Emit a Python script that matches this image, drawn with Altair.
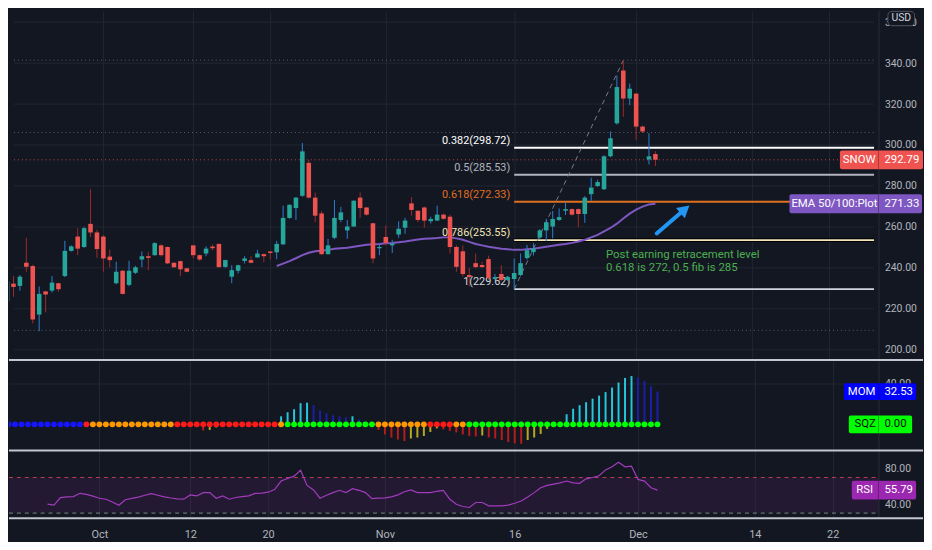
import altair as alt
import pandas as pd

# ------------------------------------------------------------------ values
# 4-hour candles of SNOW, one entry per bar from left to right
open_ = [223.6, 232.3, 231.2, 242.5, 240.9, 217.2, 228.5, 228.9, 232.5, 236.0,
         248.3, 255.3, 250.2, 261.5, 257.3, 255.3, 245.5, 232.5, 238.6, 231.7,
         237.6, 244.1, 245.7, 246.2, 251.0, 250.2, 242.5, 243.3, 239.8, 251.0,
         246.2, 247.0, 250.4, 251.7, 240.5, 235.7, 238.6, 243.4, 243.8, 245.1,
         246.7, 248.0, 247.6, 251.5, 264.4, 269.2, 275.2, 291.3, 274.3, 266.6,
         246.7, 254.7, 263.4, 258.3, 260.2, 274.3, 269.5, 261.8, 249.6, 255.1,
         251.0, 256.3, 259.6, 271.5, 267.9, 269.5, 262.8, 263.1, 266.0, 265.0,
         250.2, 248.1, 236.5, 242.3, 241.4, 244.3, 234.6, 237.0, 234.1, 234.6,
         236.5, 244.8, 247.7, 254.9, 258.3, 260.2, 263.4, 267.9, 268.7, 268.7,
         266.3, 276.0, 280.0, 278.4, 294.5, 310.6, 336.4, 322.7, 325.1, 309.0,
         292.9, 295.6]
high_ = [240.5, 236.0, 236.5, 254.7, 241.5, 230.9, 228.8, 236.0, 232.7, 253.2,
         251.0, 259.4, 260.0, 278.4, 258.6, 256.0, 249.0, 243.0, 239.0, 243.5,
         241.0, 248.0, 247.7, 252.5, 251.5, 250.5, 242.7, 243.5, 240.0, 251.2,
         246.5, 250.5, 251.5, 252.0, 244.0, 241.3, 241.5, 245.7, 245.7, 248.8,
         247.0, 248.3, 253.2, 270.4, 271.0, 274.6, 301.0, 292.8, 276.8, 267.8,
         254.2, 273.1, 269.8, 263.4, 273.0, 276.8, 269.8, 262.0, 251.7, 260.7,
         253.7, 262.8, 264.4, 274.6, 268.0, 270.0, 265.0, 270.4, 266.5, 266.0,
         251.0, 251.0, 240.0, 247.0, 243.0, 246.0, 237.0, 241.3, 236.0, 244.6,
         247.0, 251.2, 252.0, 259.0, 264.0, 267.8, 269.0, 272.0, 269.0, 269.0,
         275.0, 284.0, 283.0, 295.0, 306.6, 334.0, 341.42, 330.0, 325.5, 309.5,
         305.8, 297.0]
low_ = [222.0, 225.9, 228.9, 238.1, 212.9, 209.1, 218.3, 228.0, 228.3, 235.5,
        248.0, 246.2, 249.8, 255.0, 244.9, 238.1, 240.3, 232.0, 227.0, 231.0,
        237.0, 240.3, 238.9, 246.0, 245.5, 241.8, 240.0, 236.0, 237.8, 244.6,
        243.3, 245.7, 248.5, 240.0, 240.0, 232.5, 237.3, 242.2, 242.2, 245.0,
        242.7, 244.1, 244.2, 251.2, 264.0, 263.4, 274.7, 273.9, 262.3, 246.2,
        246.5, 254.0, 262.3, 254.2, 260.0, 264.4, 265.5, 242.2, 246.2, 251.0,
        247.3, 254.7, 256.6, 265.5, 262.3, 259.6, 261.7, 263.0, 263.5, 247.0,
        238.1, 235.7, 231.0, 239.8, 240.0, 234.0, 234.0, 233.5, 233.5, 229.62,
        236.0, 244.0, 246.0, 254.0, 253.0, 254.4, 263.0, 265.8, 265.5, 259.9,
        262.0, 272.8, 279.5, 278.0, 294.0, 310.0, 313.8, 319.5, 302.6, 305.8,
        290.5, 289.7]
close_ = [233.3, 230.7, 235.7, 240.5, 214.8, 227.3, 227.0, 232.8, 229.6, 248.3,
          250.5, 249.4, 259.4, 257.3, 249.2, 244.6, 243.8, 238.1, 227.3, 238.6,
          240.3, 245.7, 244.9, 252.1, 246.2, 242.2, 240.3, 239.3, 238.1, 246.2,
          244.1, 249.4, 249.6, 240.4, 243.8, 238.9, 241.3, 244.6, 242.5, 247.0,
          245.7, 247.3, 251.7, 264.4, 270.8, 274.3, 296.9, 274.3, 265.5, 246.7,
          251.0, 264.4, 267.1, 260.2, 272.8, 269.2, 266.0, 244.6, 250.2, 252.2,
          251.8, 259.1, 263.1, 268.3, 263.4, 263.1, 263.9, 266.0, 264.0, 250.2,
          240.5, 237.0, 235.5, 240.4, 240.4, 235.2, 235.5, 234.1, 235.5, 237.5,
          242.3, 248.6, 249.6, 258.3, 262.3, 263.9, 264.8, 268.7, 266.0, 266.3,
          274.3, 279.2, 281.9, 294.5, 303.3, 328.3, 322.7, 327.5, 309.0, 306.6,
          294.5, 292.79]

# EMA 50/100 plot, starts at bar 42
ema_first_bar = 42
ema_vals = [240.9, 242.1, 243.3, 244.7, 246.2, 247.4, 248.1, 248.4, 248.8, 249.3,
            249.6, 249.8, 250.3, 250.8, 251.3, 251.5, 251.7, 252.0, 252.2, 252.5,
            252.9, 253.4, 253.9, 254.2, 254.4, 254.6, 254.9, 254.9, 254.4, 253.7,
            252.7, 251.7, 251.0, 250.3, 249.8, 249.3, 249.1, 248.8, 248.8, 249.1,
            249.3, 249.8, 250.3, 250.8, 251.3, 251.7, 252.2, 252.9, 253.7, 254.9,
            256.1, 257.8, 259.5, 261.6, 264.1, 266.5, 268.4, 269.9, 271.0, 271.33]

# Squeeze momentum histogram (one value per bar)
mom_vals = [0, 0, 0, 0, 0, 0, 0, 0, 0, 0,
            0, 0, 0, 0, 0, 0, 0, 0, 0, 0,
            0, 0, 0, 0, 0, 0, 0, 0, 0, 0,
            0, -6, -5.5, -3, 0, 0, 0, 0, 0, 0,
            0, 0, 0, 8, 12, 15, 21, 21.5, 19, 14,
            11, 9, 8, 7, 8, 5, 3, 0.5, -5.5, -10,
            -13, -15, -16.5, -14, -13, -11.5, -7.5, -4, -5, -6.5,
            -8, -10, -11.5, -12, -11, -13, -14, -15.5, -17.5, -18.8,
            -19.2, -15.5, -13, -9.5, -4.5, -1.5, 2, 10, 15.5, 19,
            22, 25.5, 28.5, 32, 36.5, 41.5, 46, 48, 46.5, 43,
            38, 32.53]
# histogram colour per bar: c rising>0, n falling>0, r falling<0, y rising<0, . none
mom_kind = "".join([
    "...............................", "ryy", ".........", "ccccc", "nnnnnn", "c",
    "nnn", "rrrrr", "yyyyy", "rrrrrr", "y", "rrrrrr", "yyyyy", "cccccccccccc", "nnnn",
])
# squeeze dot colour per bar: b no squeeze, r / o squeeze on, g squeeze off
sqz_kind = "".join([
    "bbbbbbbbbbbbb", "r", "ooooooooooooo", "rrrrrrrrrrrrrrrr", "o", "gggggggggggggg",
    "oooooooo", "rrrr", "oo", "gggggggggggggggggggggggggggggg",
])

# RSI, starts at bar 7
rsi_first_bar = 7
rsi_vals = [40, 39, 47.4, 48.2, 48.6, 52.2, 51.1, 49, 46.7, 45.6,
            42.5, 38.9, 45, 46.5, 48, 50, 51.9, 50, 48.2, 47,
            46, 45.6, 50.4, 49.3, 53, 53, 46.7, 49.3, 45.6, 47.5,
            48.6, 49.3, 52.2, 52.5, 53.5, 56.5, 66, 68.9, 71.5, 78.2,
            61.1, 56, 46.7, 50, 53, 55.6, 53, 57.4, 55.6, 53,
            46.3, 46.8, 47.2, 48.2, 50.5, 54, 56, 53, 53, 53,
            54.5, 55.6, 45.6, 40, 37.4, 36.3, 41.9, 41.9, 38.2, 38.2,
            38.2, 39, 41.1, 43.5, 48, 53, 58.5, 61.1, 62.5, 64,
            66, 64, 63.5, 68.5, 70, 72, 78.5, 82, 87.1, 82,
            82.7, 67.8, 66, 58.5, 55.79]

tick_bars = [15, 29, 41, 59, 79, 98, 116, 128]
tick_labels = ["Oct", "12", "20", "Nov", "16", "Dec", "14", "22"]
price_ticks = [200, 220, 240, 260, 280, 300, 320, 340, 360]
mom_ticks = [40]
rsi_ticks = [40, 80]

fib_ratio = [0.382, 0.5, 0.618, 0.786, 1]
fib_price = [298.72, 285.53, 272.33, 253.55, 229.62]
fib_first_bar = 79
swing_bars = [79, 96]
swing_prices = [229.62, 341.42]
dotted_levels = [341.42, 306.1, 209.5]
rsi_upper, rsi_lower = 70, 30

note_bar = 93.3
note_prices = [246.2, 239.8]
note_lines = ["Post earning retracement level", "0.618 is 272, 0.5 fib is 285"]
arrow_from = (101.2, 256.8)
arrow_to = (105.0, 267.0)
arrow_head = (105.6, 268.6)

# ------------------------------------------------------------------ style
BG = "#131722"
GRID = "#222633"
BORDER = "#2a2e39"
SEP = "#c3c6ce"
TXT = "#b2b5be"
FONT = "Roboto"
UP, DOWN = "#26a69a", "#ef5350"
UP_WICK, DOWN_WICK = "#2a7fd6", "#9e2a2b"
MOM_COLORS = {"c": "#26c6da", "n": "#1b1fa8", "r": "#b71c1c", "y": "#b8a820", ".": "#000000"}
DOT_COLORS = {"b": "#1515ff", "r": "#ff1a1a", "o": "#ff9800", "g": "#00ff00"}
FIB_COLORS = ["#ffffff", "#b2b5be", "#e0701f", "#f2e6b8", "#d1d4dc"]

PX = 6.56                      # pixels per bar
W = 924
H_PRICE, H_MOM, H_RSI = 352, 92, 69
X_LEFT = 7 / PX
X_RIGHT = 931 / PX
X_EDGE = 886 / PX              # border between plot area and price scale
AXIS_PX = 879                  # same border in pixels
AX_OFF = AXIS_PX - W

PRICE_DOM = [195.46, 365.51]
MOM_DOM = [-25.49, 64.71]
RSI_DOM = [24.11, 100.78]

xs = alt.Scale(domain=[X_LEFT, X_RIGHT], nice=False, zero=False)


def x_axis(show):
    if show:
        labs = ",".join("'%s'" % s for s in tick_labels)
        idx = ",".join(str(v) for v in tick_bars)
        return alt.Axis(values=tick_bars, labelExpr="[%s][indexof([%s], datum.value)]" % (labs, idx),
                        grid=True, gridColor=GRID, domain=False, ticks=False, labelColor=TXT,
                        labelFont=FONT, labelFontSize=11, labelPadding=10, title=None,
                        labelFlush=False, labelOverlap=False)
    return alt.Axis(values=tick_bars, labels=False, grid=True, gridColor=GRID, domain=False,
                    ticks=False, title=None, minExtent=0, maxExtent=0)


def y_axis(values):
    return alt.Axis(orient="right", offset=AX_OFF, values=values, format=".2f", grid=False,
                    ticks=False, domain=True, domainColor=BORDER, labelColor=TXT, labelFont=FONT,
                    labelFontSize=10.5, labelPadding=6, labelAlign="left", title=None,
                    minExtent=0, maxExtent=0, labelFlush=False, labelOverlap=False)


def make_enc(xaxis, dom, yvals):
    ys = alt.Scale(domain=dom, nice=False, zero=False)
    ya = y_axis(yvals)

    def X(f):
        return alt.X(f, type="quantitative", scale=xs, axis=xaxis)

    def XD(v):
        return alt.XDatum(v, type="quantitative", scale=xs, axis=xaxis)

    def Y(f):
        return alt.Y(f, type="quantitative", scale=ys, axis=ya)

    def YD(v):
        return alt.YDatum(v, type="quantitative", scale=ys, axis=ya)
    return X, XD, Y, YD


def tag(Y, value, half_px, ppu, x0, x1, fill, name, name_x, val_text, fg):
    half = half_px / ppu
    d = pd.DataFrame({"v": [value], "hi": [value + half], "lo": [value - half],
                      "name": [name], "val": [val_text]})
    b = alt.Chart(d)
    return [
        b.mark_rect(color=fill, cornerRadius=2).encode(
            x=alt.value(x0), x2=alt.value(x1), y=Y("hi"), y2=alt.Y2("lo")),
        b.mark_rule(color="#000000", opacity=0.3, strokeWidth=1).encode(
            x=alt.value(AXIS_PX), y=Y("hi"), y2=alt.Y2("lo")),
        b.mark_text(align="center", baseline="middle", color=fg, font=FONT, fontSize=11.5).encode(
            x=alt.value(name_x), y=Y("v"), text="name:N"),
        b.mark_text(align="left", baseline="middle", color=fg, font=FONT, fontSize=11.5).encode(
            x=alt.value(AXIS_PX + 6), y=Y("v"), text="val:N"),
    ]


n = len(close_)
up = [c >= o for o, c in zip(open_, close_)]
bars = pd.DataFrame({"k": list(range(n)), "o": open_, "h": high_, "l": low_, "c": close_,
                     "body": [UP if u else DOWN for u in up],
                     "wick": [UP_WICK if u else DOWN_WICK for u in up]})
ema_df = pd.DataFrame({"k": list(range(ema_first_bar, ema_first_bar + len(ema_vals))), "v": ema_vals})
rsi_df = pd.DataFrame({"k": list(range(rsi_first_bar, rsi_first_bar + len(rsi_vals))), "v": rsi_vals})
mom_df = pd.DataFrame({"k": list(range(n)), "m": mom_vals, "kind": list(mom_kind), "dot": list(sqz_kind)})
mom_df["mc"] = mom_df["kind"].map(MOM_COLORS)
mom_df["dc"] = mom_df["dot"].map(DOT_COLORS)
hist_df = mom_df[mom_df["kind"] != "."]

# ------------------------------------------------------------------ price pane
X, XD, Y, YD = make_enc(x_axis(False), PRICE_DOM, price_ticks)
ppu_price = H_PRICE / (PRICE_DOM[1] - PRICE_DOM[0])

fib_df = pd.DataFrame({"k": [fib_first_bar] * len(fib_price), "p": fib_price, "col": FIB_COLORS,
                       "lab": ["%g(%.2f)" % (r, p) for r, p in zip(fib_ratio, fib_price)]})
swing_df = pd.DataFrame({"k": swing_bars, "p": swing_prices})
note_df = pd.DataFrame({"k": [note_bar] * 2, "p": note_prices, "t": note_lines})
arrow_df = pd.DataFrame({"k": [arrow_from[0]], "p": [arrow_from[1]], "k2": [arrow_to[0]], "p2": [arrow_to[1]]})
head_df = pd.DataFrame({"k": [arrow_head[0]], "p": [arrow_head[1]]})

price_layers = [
    alt.Chart(pd.DataFrame({"p": price_ticks})).mark_rule(color=GRID, strokeWidth=1).encode(
        x=XD(X_LEFT), x2=alt.X2Datum(X_EDGE), y=Y("p")),
    alt.Chart(pd.DataFrame({"p": dotted_levels})).mark_rule(color="#5d606b", strokeWidth=1, strokeDash=[1, 3]).encode(
        x=XD(X_LEFT), x2=alt.X2Datum(X_EDGE), y=Y("p")),
    alt.Chart(pd.DataFrame({"p": [close_[-1]]})).mark_rule(color=DOWN, opacity=0.8, strokeWidth=1, strokeDash=[1, 3]).encode(
        x=XD(X_LEFT), x2=alt.X2Datum(X_EDGE), y=Y("p")),
    alt.Chart(fib_df[fib_df["p"] == fib_price[3]]).mark_rule(color="#000000", strokeWidth=4).encode(
        x=X("k"), x2=alt.X2Datum(X_EDGE), y=Y("p")),
    alt.Chart(fib_df).mark_rule(strokeWidth=2).encode(
        x=X("k"), x2=alt.X2Datum(X_EDGE), y=Y("p"), color=alt.Color("col:N", scale=None)),
    alt.Chart(fib_df).mark_text(align="right", baseline="middle", dx=-4, dy=-7, font=FONT, fontSize=11).encode(
        x=X("k"), y=Y("p"), text="lab:N", color=alt.Color("col:N", scale=None)),
    alt.Chart(swing_df).mark_line(color="#787b86", strokeWidth=1, strokeDash=[5, 4]).encode(
        x=X("k"), y=Y("p")),
    alt.Chart(ema_df).mark_line(color="#7e57c2", strokeWidth=2).encode(x=X("k"), y=Y("v")),
    alt.Chart(bars).mark_rule(strokeWidth=1, clip=True).encode(
        x=X("k"), y=Y("l"), y2=alt.Y2("h"), color=alt.Color("wick:N", scale=None)),
    alt.Chart(bars).mark_bar(width=4.6, orient="vertical", clip=True).encode(
        x=X("k"), y=Y("o"), y2=alt.Y2("c"), color=alt.Color("body:N", scale=None)),
    alt.Chart(note_df).mark_text(align="left", baseline="middle", color="#4caf50", font=FONT, fontSize=11.5).encode(
        x=X("k"), y=Y("p"), text="t:N"),
    alt.Chart(arrow_df).mark_rule(color="#2196f3", strokeWidth=4, strokeCap="round").encode(
        x=X("k"), y=Y("p"), x2=alt.X2("k2"), y2=alt.Y2("p2")),
    alt.Chart(head_df).mark_point(shape="triangle-up", filled=True, size=190, angle=50, color="#2196f3", opacity=1).encode(
        x=X("k"), y=Y("p")),
]
price_layers += tag(Y, close_[-1], 9.5, ppu_price, 840, 924, DOWN, "SNOW", 859.5,
                    "%.2f" % close_[-1], "#ffffff")
price_layers += tag(Y, ema_vals[-1], 9.5, ppu_price, 789, 923, "#7e57c2", "EMA 50/100:Plot", 834.5,
                    "%.2f" % ema_vals[-1], "#ffffff")
usd_df = pd.DataFrame({"hi": [PRICE_DOM[1] - 0.5 / ppu_price], "lo": [PRICE_DOM[1] - 15 / ppu_price],
                       "v": [PRICE_DOM[1] - 7.6 / ppu_price], "t": ["USD"]})
price_layers += [
    alt.Chart(usd_df).mark_rect(color=BG, stroke="#50535e", strokeWidth=1, cornerRadius=4).encode(
        x=alt.value(888.5), x2=alt.value(915.5), y=Y("hi"), y2=alt.Y2("lo")),
    alt.Chart(usd_df).mark_text(align="center", baseline="middle", color="#d1d4dc", font=FONT, fontSize=10.5).encode(
        x=alt.value(902), y=Y("v"), text="t:N"),
]
price = alt.layer(*price_layers).properties(width=W, height=H_PRICE)

# ------------------------------------------------------------------ momentum pane
X, XD, Y, YD = make_enc(x_axis(False), MOM_DOM, mom_ticks)
ppu_mom = H_MOM / (MOM_DOM[1] - MOM_DOM[0])
mom_layers = [
    alt.Chart(pd.DataFrame({"p": mom_ticks})).mark_rule(color=GRID, strokeWidth=1).encode(
        x=XD(X_LEFT), x2=alt.X2Datum(X_EDGE), y=Y("p")),
    alt.Chart(hist_df).mark_rule(strokeWidth=2, clip=True).encode(
        x=X("k"), y=Y("m"), y2=alt.Y2Datum(0), color=alt.Color("mc:N", scale=None)),
    alt.Chart(mom_df).mark_circle(size=36, opacity=1, clip=True).encode(
        x=X("k"), y=YD(0), color=alt.Color("dc:N", scale=None)),
]
mom_layers += tag(Y, mom_vals[-1], 8.5, ppu_mom, 844, 917, "#0000ff", "MOM", 862,
                  "%.2f" % mom_vals[-1], "#ffffff")
mom_layers += tag(Y, 0, 9, ppu_mom, 849, 913, "#00ff00", "SQZ", 865.5, "0.00", "#0b0b0b")
mom_layers += [
    alt.Chart(pd.DataFrame({"p": [63.7]})).mark_rule(color=SEP, strokeWidth=2).encode(
        x=XD(X_LEFT), x2=alt.X2Datum(X_RIGHT), y=Y("p")),
]
mom = alt.layer(*mom_layers).properties(width=W, height=H_MOM)

# ------------------------------------------------------------------ RSI pane
X, XD, Y, YD = make_enc(x_axis(True), RSI_DOM, rsi_ticks)
ppu_rsi = H_RSI / (RSI_DOM[1] - RSI_DOM[0])
band_df = pd.DataFrame({"lo": [rsi_lower], "hi": [rsi_upper]})
rsi_layers = [
    alt.Chart(band_df).mark_rect(color="#9c27b0", opacity=0.12).encode(
        x=XD(X_LEFT), x2=alt.X2Datum(X_EDGE), y=Y("lo"), y2=alt.Y2("hi")),
    alt.Chart(pd.DataFrame({"p": [rsi_upper]})).mark_rule(color="#b8404e", strokeWidth=1, strokeDash=[4, 4]).encode(
        x=XD(X_LEFT), x2=alt.X2Datum(X_EDGE), y=Y("p")),
    alt.Chart(pd.DataFrame({"p": [rsi_lower]})).mark_rule(color="#6f8f7c", strokeWidth=1, strokeDash=[4, 4]).encode(
        x=XD(X_LEFT), x2=alt.X2Datum(X_EDGE), y=Y("p")),
    alt.Chart(rsi_df).mark_line(color="#a23bbd", strokeWidth=1.2, clip=True).encode(x=X("k"), y=Y("v")),
]
rsi_layers += tag(Y, rsi_vals[-1], 9.5, ppu_rsi, 852, 917, "#9c27b0", "RSI", 865,
                  "%.2f" % rsi_vals[-1], "#ffffff")
rsi_layers += [
    alt.Chart(pd.DataFrame({"p": [100.2, RSI_DOM[0]]})).mark_rule(color=SEP, strokeWidth=2).encode(
        x=XD(X_LEFT), x2=alt.X2Datum(X_RIGHT), y=Y("p")),
]
rsi = alt.layer(*rsi_layers).properties(width=W, height=H_RSI)

chart = (
    alt.vconcat(price, mom, rsi, spacing=0, bounds="flush")
    .resolve_scale(x="independent", y="independent")
    .properties(background=BG, padding=0)
    .configure_view(strokeWidth=0)
)
chart.save("out.html", embed_options={"renderer": "svg", "actions": False})
